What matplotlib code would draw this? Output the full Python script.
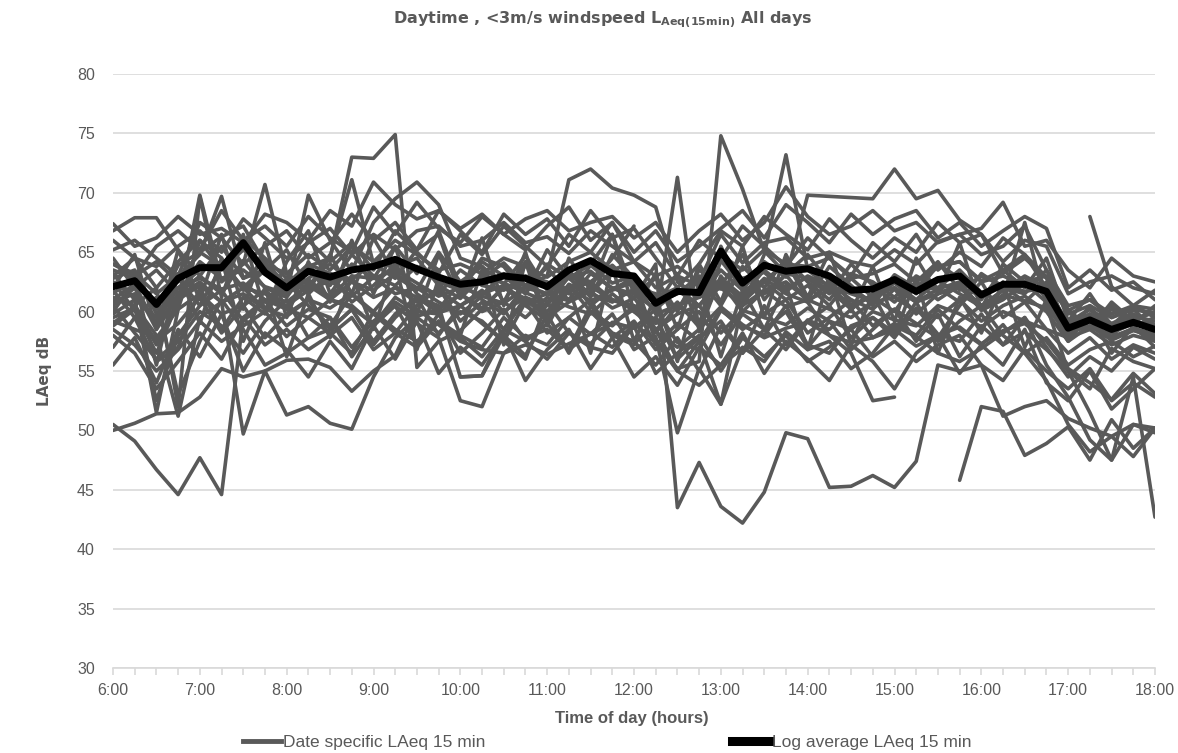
import numpy as np
import matplotlib
matplotlib.use("Agg")
import matplotlib.pyplot as plt
from matplotlib.lines import Line2D

N = None
hours = list(range(6, 19))
tick_labels = [f"{h}:00" for h in hours]

log_average = [62.1,62.6,60.6,62.8,63.7,63.7,65.8,63.3,62.0,63.4,62.9,63.5,63.8,64.4,63.6,62.9,62.3,62.5,63.0,62.8,62.1,63.5,64.3,63.2,63.0,60.7,61.7,61.6,65.1,62.4,63.9,63.4,63.6,63.0,61.8,61.9,62.7,61.7,62.7,63.0,61.4,62.3,62.3,61.7,58.6,59.3,58.5,59.1,58.5]

s01 = [50.5,49.1,46.7,44.6,47.7,44.6,59.5,61.0,60.2,62.5,61.0,60.5,58.9,61.2,60.0,59.8,61.5,60.3,62.0,61.1,60.0,62.3,61.5,60.8,61.9,58.2,60.5,59.1,62.5,60.0,61.8,60.4,61.0,60.2,59.5,60.8,61.2,60.0,59.5,61.0,59.2,60.5,61.3,60.0,57.5,58.8,57.9,58.5,57.6]
s02 = [50.0,50.6,51.4,51.5,52.8,55.2,54.5,55.0,55.9,56.0,55.3,53.3,55.0,56.3,60.2,58.9,57.5,56.8,56.5,57.2,56.4,57.3,58.1,59.0,60.2,58.3,57.0,58.5,60.4,58.9,57.8,58.6,59.1,58.0,57.4,57.8,58.5,57.1,58.0,58.7,57.3,58.4,59.0,57.5,55.2,54.0,52.6,54.8,53.1]
s03 = [66.8,67.9,67.9,65.2,63.0,61.5,64.3,62.0,61.2,63.8,64.5,73.0,72.9,74.9,55.3,57.5,58.4,60.2,62.1,60.5,59.3,61.8,62.5,61.0,60.2,59.0,60.8,58.7,64.3,62.0,61.5,63.1,60.8,62.4,61.0,60.2,61.9,59.8,61.5,62.3,60.1,61.0,62.4,60.8,58.0,59.2,57.8,58.6,58.1]
s04 = [61.0,62.3,58.7,61.5,64.2,62.8,63.5,62.1,61.5,62.7,61.2,63.0,62.8,63.5,62.4,61.3,62.0,61.4,63.2,62.1,63.0,71.1,72.0,70.4,69.8,68.8,62.5,61.2,63.5,61.8,64.2,62.9,69.8,69.7,69.6,69.5,72.0,69.5,70.2,67.7,66.5,63.2,64.5,62.8,60.1,61.0,59.5,60.3,59.8]
s05 = [63.5,62.8,60.2,63.9,65.0,66.3,67.2,64.1,62.3,64.0,63.2,62.7,64.1,63.8,64.5,62.2,61.1,63.0,62.4,61.6,60.8,62.9,63.4,61.9,62.8,57.5,55.2,55.8,74.8,70.3,65.1,63.2,64.8,62.5,61.9,60.8,63.1,62.0,63.8,64.2,62.5,63.0,62.2,61.5,59.1,60.2,59.0,59.8,58.9]
s06 = [60.8,61.5,59.1,62.0,62.8,61.9,62.4,61.0,60.5,61.8,62.6,61.3,62.9,61.5,62.0,60.8,59.8,61.3,60.7,62.0,61.5,60.9,62.1,61.0,60.5,59.3,71.3,58.3,63.0,60.5,64.8,73.2,63.5,62.1,60.5,61.4,62.0,60.8,61.9,62.5,60.2,61.4,60.9,60.3,58.2,58.8,57.6,58.4,57.9]
s07 = [59.5,60.3,57.2,61.0,62.2,60.8,61.5,60.2,59.6,61.0,60.3,61.5,60.0,62.1,61.2,59.9,60.5,61.8,60.0,61.2,59.5,60.8,61.7,60.3,61.1,64.0,43.5,47.3,43.6,42.2,44.8,49.8,49.3,45.2,45.3,46.2,45.2,47.4,55.5,55.0,55.5,51.2,52.0,52.5,51.0,50.2,49.5,50.5,49.8]
s08 = [N]*39 + [45.8,52.0,51.6,47.9,48.9,50.3,47.5,50.9,48.5,50.2]
s09 = [N]*45 + [68.0,62.1,60.5,61.8]
s10 = [62.5,60.1,56.5,60.8,69.8,62.5,64.0,70.7,63.2,61.8,64.6,71.1,64.0,62.8,65.2,66.5,61.3,62.8,64.1,62.2,63.7,61.5,63.9,62.4,63.0,61.2,62.0,60.5,62.8,61.3,63.5,62.0,62.9,61.8,60.6,61.2,62.4,61.0,62.6,61.5,60.4,61.8,62.9,61.2,58.8,59.5,58.2,59.0,58.4]
s11 = [64.0,63.2,61.5,63.0,64.8,69.7,62.8,63.5,61.5,69.8,66.0,63.4,67.5,69.5,70.9,69.0,64.5,63.8,62.3,64.7,61.8,63.2,62.5,63.9,62.2,60.8,61.5,63.0,61.9,62.8,63.3,61.7,63.0,62.2,61.5,60.9,62.5,61.8,62.0,63.5,61.6,62.3,61.7,62.0,59.0,59.8,58.8,59.6,59.2]
s12 = [57.0,59.5,61.2,53.0,57.5,61.0,58.5,55.5,56.5,57.8,58.5,60.2,57.5,59.8,61.2,60.5,54.5,54.6,58.0,56.3,59.8,56.5,60.0,58.2,57.5,55.5,57.8,55.0,58.8,56.5,60.5,57.2,59.3,58.5,60.2,57.8,59.0,58.0,60.2,58.5,57.2,58.9,56.5,57.8,55.5,56.8,57.5,56.2,57.1]
s13 = [59.8,61.0,52.5,58.0,60.5,61.8,59.2,60.9,58.8,60.2,59.5,57.0,59.2,60.5,59.0,57.8,52.5,52.0,56.5,58.0,57.2,59.5,58.1,59.8,56.8,57.9,49.8,55.2,52.2,57.0,55.8,58.3,56.8,57.5,55.2,56.5,58.8,57.9,56.5,55.8,56.9,58.2,59.5,55.5,52.8,49.2,47.5,54.5,42.7]
s14 = [61.2,60.5,58.0,51.2,59.5,60.8,49.7,55.0,51.3,52.0,50.6,50.1,54.5,57.8,59.5,58.2,60.0,59.2,57.5,56.0,60.8,58.2,57.3,59.1,58.6,60.2,57.4,56.8,60.1,58.8,58.0,60.5,57.2,56.5,58.8,59.5,57.8,60.3,58.1,57.5,59.8,57.2,58.3,56.8,55.0,53.5,56.9,55.8,55.2]
s15 = [66.0,64.5,63.8,65.5,66.8,65.0,67.8,66.2,64.5,65.8,67.0,64.8,66.5,65.2,66.8,67.2,65.5,66.0,67.5,65.8,66.3,64.9,66.8,65.5,64.2,63.0,63.8,62.5,66.5,64.1,65.8,66.2,64.5,65.0,64.2,63.8,65.2,64.0,65.9,66.5,64.8,65.5,67.2,63.5,60.5,61.0,59.8,60.5,60.2]
s16 = [59.2,58.5,57.8,60.2,61.5,59.8,60.5,61.8,60.2,59.5,61.0,60.3,59.0,60.8,59.6,60.2,61.5,60.0,60.8,59.5,61.2,60.4,59.8,61.5,60.0,58.5,59.8,60.5,58.2,60.1,59.5,58.9,60.3,59.2,58.5,60.0,59.3,58.8,60.5,59.8,58.7,60.0,59.2,58.5,57.8,58.5,57.2,58.0,57.5]
s17 = [63.0,64.5,62.0,64.2,66.0,63.5,65.2,64.0,63.2,64.8,63.5,65.5,64.2,66.0,64.8,63.5,64.0,63.2,64.5,63.8,62.9,64.2,65.0,63.5,64.2,62.0,63.0,62.2,64.8,63.5,65.2,64.0,63.8,64.5,62.8,63.2,64.0,62.5,63.8,64.2,62.6,63.5,64.8,62.9,59.8,60.5,59.5,60.2,59.8]
s18 = [62.8,63.5,59.8,62.0,63.5,64.2,62.0,63.8,61.5,62.8,64.0,62.5,61.8,63.2,62.0,61.5,63.5,62.2,61.8,63.0,62.5,61.0,63.2,62.0,61.5,60.2,61.8,60.5,62.5,61.0,62.8,61.5,60.8,58.0,56.5,52.5,52.8] + [N]*12
s19 = [N]*16 + [54.5,54.6,58.5,61.2,60.5,63.0,62.2,64.5,67.2] + [N]*24
s20 = [58.5,57.2,55.0,56.8,59.2,57.5,58.8,60.0,57.9,59.5,58.2,56.5,60.0,58.5,57.5,59.2,58.0,57.0,59.5,57.8,58.5,56.8,58.2,57.0,59.0,57.5,55.0,53.8,55.5,56.9] + [N]*19
s21 = [60.5,62.0,58.5,61.2,62.5,60.8,62.0,61.5,60.8,62.2,61.0,62.5,61.2,62.0,60.8,61.8,60.5,61.5,62.2,60.8,61.5,62.0,60.9,61.8,62.5,59.8,60.5,61.2,62.0,60.5,61.8,62.5,61.0,61.8,60.2,61.5,62.0,60.8,61.5,62.0,60.5,61.2,67.5,60.5,55.0,51.5,47.5,50.5,50.2]
s22 = [65.2,66.0,64.5,63.0,67.5,66.2,64.0,65.5,66.8,64.5,65.8,68.2,66.0,67.5,65.2,68.5,66.8,65.0,68.2,66.5,67.8,65.5,68.5,66.2,67.0,64.5,62.0,64.0,66.8,65.5,68.0,66.5,65.2,67.8,66.0,64.5,66.2,65.0,67.5,65.8,66.5,64.2,66.0,65.5,61.5,62.5,63.0,62.0,61.5]
s23 = [61.8,59.5,55.8,57.0,62.0,58.5,61.2,59.8,62.5,60.5,58.8,61.5,59.8,58.2,60.5,62.0,59.2,60.8,58.5,61.0,59.5,62.2,60.0,58.8,60.5,57.2,59.0,57.5,60.2,58.5,59.8,61.0,58.2,59.5,61.0,58.8,60.2,59.0,57.8,60.5,62.5,59.5,60.8,58.5,56.5,57.8,56.0,57.2,56.5]
s24 = [64.5,62.0,63.5,61.5,63.0,65.5,62.8,64.2,62.0,63.5,62.2,64.8,63.0,62.2,63.8,62.5,61.8,64.2,63.0,61.5,64.0,62.8,61.5,63.5,62.0,61.5,60.2,62.8,60.5,63.8,62.0,64.5,62.5,61.0,63.2,62.5,61.2,63.0,62.0,60.8,63.2,62.0,61.5,63.5,60.0,58.5,60.2,59.0,60.5]
s25 = [58.0,56.5,53.5,55.8,58.2,56.0,59.5,57.2,58.5,56.8,58.0,59.5,56.8,58.2,57.0,59.2,57.8,56.2,58.5,57.5,56.0,58.2,57.0,56.5,58.8,54.8,56.5,58.0,55.0,57.8,56.2,58.0,55.8,57.0,58.5,56.2,57.5,55.8,57.2,58.0,55.5,54.2,56.8,55.0,53.5,55.2,52.5,54.0,52.8]
s26 = [67.4,65.5,66.2,68.0,66.5,67.0,65.8,68.2,67.5,66.0,68.5,67.2,70.9,69.0,67.8,68.5,67.0,68.2,66.5,67.8,68.5,66.8,67.5,68.0,66.2,67.5,65.0,66.8,68.2,66.0,67.5,70.5,68.0,66.5,67.2,68.5,66.8,67.5,65.8,66.5,67.0,69.2,65.5,66.0,63.5,62.0,64.5,63.0,62.5]
s27 = [60.0,62.5,55.5,63.2,59.0,64.5,57.5,62.0,56.2,61.5,57.8,63.0,58.5,64.0,56.8,62.8,58.0,63.5,57.2,64.2,58.8,62.0,56.5,63.8,57.5,61.2,55.8,62.5,56.2,61.8,58.5,62.2,56.8,63.0,57.2,61.5,58.0,62.8,56.5,61.2,58.2,62.5,57.0,61.0,57.5,59.8,56.5,58.8,57.0]
s28 = [62.0,64.8,58.5,65.2,61.0,66.5,60.2,65.8,59.5,64.2,60.8,66.0,61.5,65.5,59.8,64.8,61.2,66.2,60.5,65.0,59.2,64.5,61.8,66.5,60.0,63.2,58.5,64.0,60.8,65.5,59.5,64.8,61.2,65.0,60.0,63.8,59.2,64.5,61.5,65.8,60.2,64.0,62.5,63.0,58.2,60.5,57.8,60.2,58.5]
s29 = [55.5,57.8,54.0,58.5,56.2,59.8,55.0,58.2,56.8,54.5,57.5,55.2,58.8,56.0,59.2,54.8,57.0,55.5,58.2,54.2,56.8,58.5,55.2,57.8,54.5,56.2,53.8,57.0,55.5,58.2,54.8,57.5,56.0,54.2,57.2,55.8,53.5,56.5,58.0,54.8,57.2,55.5,58.5,54.0,52.5,55.0,51.8,53.5,55.2]
s30 = [63.2,61.0,51.5,60.2,66.0,64.5,61.8,63.5,65.2,62.0,64.8,61.5,66.2,63.0,61.8,65.0,62.5,63.8,60.8,64.2,62.0,63.5,61.2,64.8,62.8,60.5,63.2,58.8,65.5,61.8,62.5,64.2,61.0,63.8,62.2,60.5,63.0,61.5,64.0,62.8,61.0,63.5,62.0,64.5,59.2,61.5,58.8,60.5,59.5]
s31 = [64.0,63.0,65.5,66.8,65.2,68.5,66.0,67.2,65.5,68.0,66.2,65.0,68.8,66.5,69.2,67.0,65.8,68.0,66.5,65.2,67.2,68.8,66.0,67.5,65.0,66.8,64.2,65.5,67.0,68.5,66.2,69.0,67.5,65.8,68.2,66.5,67.8,68.5,66.2,67.5,65.5,66.8,68.0,67.0,62.0,63.5,61.8,62.5,61.0]
s32 = [60.5,58.2,56.0,57.5,60.0,58.8,56.5,59.2,61.0,57.8,59.5,56.2,58.8,60.5,57.2,59.8,56.5,58.2,60.2,57.5,59.0,56.8,60.5,58.0,57.2,59.5,56.0,57.8,59.2,56.5,58.5,60.0,57.0,59.2,56.8,58.5,60.2,57.5,59.8,56.2,58.8,57.2,59.5,57.0,54.5,56.2,55.0,57.0,56.0]
s33 = [59.0,60.5,62.0,52.0,69.7,61.2,66.5,60.0,64.2,66.8,61.5,64.0,62.8,65.5,63.2,66.8,62.0,64.5,63.8,61.5,65.2,62.8,64.0,66.5,61.5,62.8,60.0,63.5,62.2,64.8,61.0,63.2,62.8,61.5,64.0,62.2,60.8,62.5,64.2,61.8,63.0,62.2,60.8,62.5,58.0,59.2,60.5,58.8,59.5]
s34 = [62.5,61.2,59.5,62.8,60.5,63.8,62.0,60.2,62.8,61.5,63.2,60.8,62.2,64.0,61.5,60.2,62.5,61.0,59.8,62.2,61.5,63.0,60.5,62.0,61.2,58.5,55.0,57.5,52.2,60.8,62.5,61.0,62.2,60.5,62.8,61.2,60.0,62.5,61.0,62.2,60.5,61.8,63.0,62.0,59.0,60.2,58.5,59.5,58.2]
s35 = [61.5,63.0,64.2,62.5,65.0,63.8,66.2,64.5,62.8,66.0,64.2,65.8,63.5,66.8,65.0,63.2,66.5,64.8,67.2,65.5,63.8,66.5,65.0,67.5,64.2,65.8,63.0,66.0,64.5,67.2,65.5,63.8,66.2,64.5,63.0,65.8,64.2,66.5,63.5,65.0,63.8,66.2,64.8,62.0,60.2,58.5,60.8,59.2,60.0]
s36 = [58.8,60.2,57.5,59.0,61.2,58.2,60.5,57.8,59.8,61.0,58.5,60.2,57.2,59.5,61.2,58.0,60.5,59.0,57.5,60.8,58.2,59.5,61.0,57.8,59.2,56.8,58.5,60.0,57.2,59.8,58.5,56.8,59.2,60.5,57.8,59.5,58.2,60.8,57.5,59.2,60.5,58.0,56.5,54.2,50.5,48.2,49.5,47.8,50.2]

daily_series = [s01, s02, s03, s04, s05, s06, s07, s08, s09, s10, s11, s12, s13, s14,
                s15, s16, s17, s18, s19, s20, s21, s22, s23, s24, s25, s26, s27, s28,
                s29, s30, s31, s32, s33, s34, s35, s36]

GRAY = "#595959"
TXT = "#595959"
lib = ["Liberation Sans", "DejaVu Sans"]

W, H = 1178, 753
fig = plt.figure(figsize=(W / 100, H / 100), dpi=100)
ax = fig.add_axes([113 / W, 1 - 668 / H, (1155 - 113) / W, (668 - 74) / H])

x = 6 + np.arange(len(log_average)) * 0.25

for s in daily_series:
    y = np.array([np.nan if v is None else v for v in s], dtype=float)
    ax.plot(x, y, color=GRAY, lw=2.6, solid_capstyle="round", solid_joinstyle="round", zorder=2)
ax.plot(x, log_average, color="black", lw=5, solid_capstyle="round", solid_joinstyle="round", zorder=3)

ax.set_xlim(6, 18)
ax.set_ylim(30, 80)
ax.set_yticks(np.arange(30, 81, 5))
ax.set_xticks(hours)
ax.set_xticklabels(tick_labels)
ax.set_xticks(x, minor=True)
ax.grid(axis="y", color="#d9d9d9", lw=1.2, zorder=0)
ax.set_axisbelow(True)
for sp in ["top", "right", "left"]:
    ax.spines[sp].set_visible(False)
ax.spines["bottom"].set_color("#d9d9d9")
ax.spines["bottom"].set_linewidth(1.2)
ax.tick_params(axis="y", length=0, pad=13, labelcolor=TXT, labelsize=11.5)
ax.tick_params(axis="x", which="both", length=5, color="#d9d9d9", width=1.2, labelcolor=TXT, labelsize=11.5, pad=6)
for lab in ax.get_xticklabels() + ax.get_yticklabels():
    lab.set_family(lib)

fig.text(603 / W, 1 - 20 / H, r"Daytime , <3m/s windspeed $\mathbf{L_{Aeq(15min)}}$ All days",
         ha="center", va="center", fontsize=11.5, fontweight="bold", color=TXT)
fig.text(45 / W, 1 - 371 / H, "LAeq dB", rotation=90, ha="center", va="center",
         fontsize=11, fontweight="bold", color=TXT)
fig.text(632 / W, 1 - 718 / H, "Time of day (hours)", ha="center", va="center",
         fontsize=12, fontweight="bold", color=TXT, family=lib)

handles = [Line2D([], [], color=GRAY, lw=3.5), Line2D([], [], color="black", lw=6.5)]
leg = fig.legend(handles, ["Date specific LAeq 15 min", "Log average LAeq 15 min"],
                 loc="center", bbox_to_anchor=(607 / W, 1 - 742 / H), ncol=2, frameon=False,
                 handlelength=2.2, handletextpad=0.1, columnspacing=14.2,
                 prop={"family": lib, "size": 12.5})
for t in leg.get_texts():
    t.set_color(TXT)

fig.savefig("out.png", dpi=100)
